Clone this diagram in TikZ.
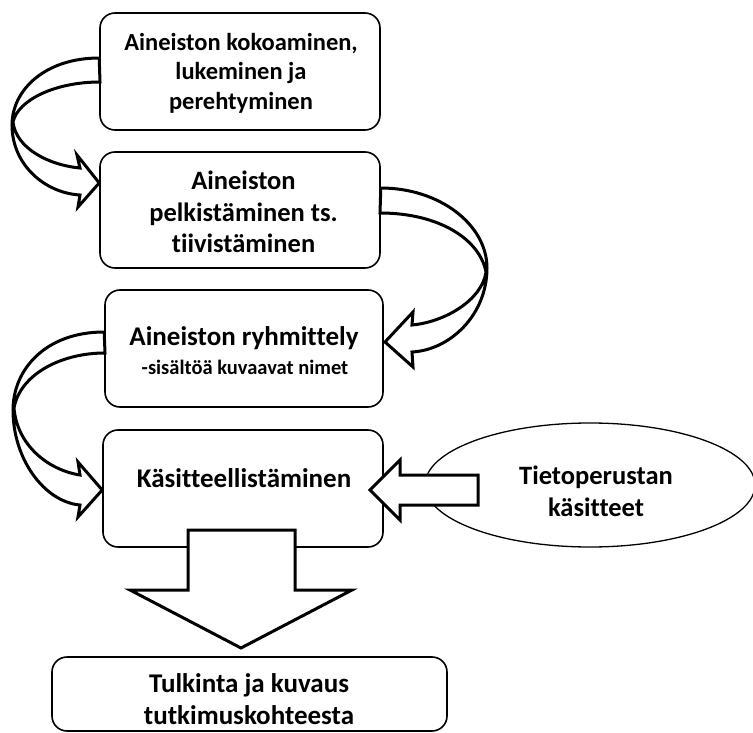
\documentclass[tikz,border=0pt]{standalone}
\usepackage{fontspec}
\setmainfont{Carlito}[Ligatures={NoCommon}]
\usetikzlibrary{shapes.geometric}
\begin{document}
\begin{tikzpicture}[x=1pt,y=-1pt,
  box/.style={draw,line width=1.6pt,rounded corners=15pt,fill=white,inner sep=0pt},
  lbl/.style={font=\bfseries,align=center,inner sep=0pt},
  barrow/.style={draw,line width=3pt,line join=miter,fill=white},
  carrow/.style={draw,line width=3pt,line join=miter}]
\useasboundingbox (0,0) rectangle (753,733);
% boxes
\node[box,minimum width=280pt,minimum height=117pt] (b1) at (240,71.5) {};
\node[box,minimum width=280pt,minimum height=116pt] (b2) at (240,210) {};
\node[box,minimum width=278pt,minimum height=117pt] (b3) at (244,348.5) {};
\node[box,minimum width=280pt,minimum height=117pt] (b4) at (243,488.5) {};
\node[box,minimum width=395pt,minimum height=74pt] (b5) at (249.5,694) {};
\node[draw,ellipse,line width=1.3pt,minimum width=330pt,minimum height=124pt,inner sep=0pt] (el) at (590,485) {};
% texts
\node[lbl,font=\bfseries\fontsize{24.5}{29.5}\selectfont] (t1) at (241,73) {Aineiston kokoaminen,\\lukeminen ja\\perehtyminen};
\node[lbl,font=\bfseries\fontsize{26.5}{31.5}\selectfont] (t2) at (243.5,212) {Aineiston\\pelkistäminen ts.\\tiivistäminen};
\node[lbl,font=\bfseries\fontsize{27}{30}\selectfont] (t3a) at (244,338) {Aineiston ryhmittely};
\node[lbl,font=\bfseries\fontsize{20.5}{24}\selectfont] (t3b) at (245,367) {-sisältöä kuvaavat nimet};
\node[lbl,font=\bfseries\fontsize{27}{30}\selectfont] (t4) at (244,478) {Käsitteellistäminen};
\node[lbl,font=\bfseries\fontsize{27}{32}\selectfont] (t5) at (249,699) {Tulkinta ja kuvaus\\tutkimuskohteesta};
\node[lbl,font=\bfseries\fontsize{26.5}{32}\selectfont] (t6) at (596,491) {Tietoperustan\\käsitteet};
% curved arrows
\draw[carrow] (b1.west |- 0,58) .. controls (45,58) and (12,90) .. (12,125)
  .. controls (12,165) and (45,193) .. (80,195) -- (78,207) -- (b2.west |- 0,183) -- (77,155) -- (80,168)
  .. controls (48,165) and (16,148) .. (13,122) .. controls (18,100) and (55,82) .. (100,82) -- cycle;
\draw[carrow] (b2.east |- 0,188) .. controls (440,188) and (487,225) .. (487,268)
  .. controls (487,315) and (450,350) .. (412,352) -- (413,367) -- (385,342) -- (413,312) -- (412,325)
  .. controls (445,322) and (482,300) .. (486,272) .. controls (480,240) and (440,213) .. (380,213) -- cycle;
\draw[carrow] (b3.west |- 0,332) .. controls (45,332) and (13,370) .. (13,410)
  .. controls (13,460) and (45,502) .. (80,505) -- (78,517) -- (b4.west |- 0,490) -- (78,462) -- (80,475)
  .. controls (48,470) and (17,445) .. (14,408) .. controls (20,375) and (60,353) .. (105,353) -- cycle;
% straight arrows
\draw[barrow] (478,475) -- (400,475) -- (400,460) -- (370,490) -- (400,520) -- (400,505) -- (478,505) -- cycle;
\draw[barrow] (188,530) -- (295,530) -- (295,590) -- (352,590) -- (241,648) -- (130,590) -- (188,590) -- cycle;
\end{tikzpicture}
\end{document}
